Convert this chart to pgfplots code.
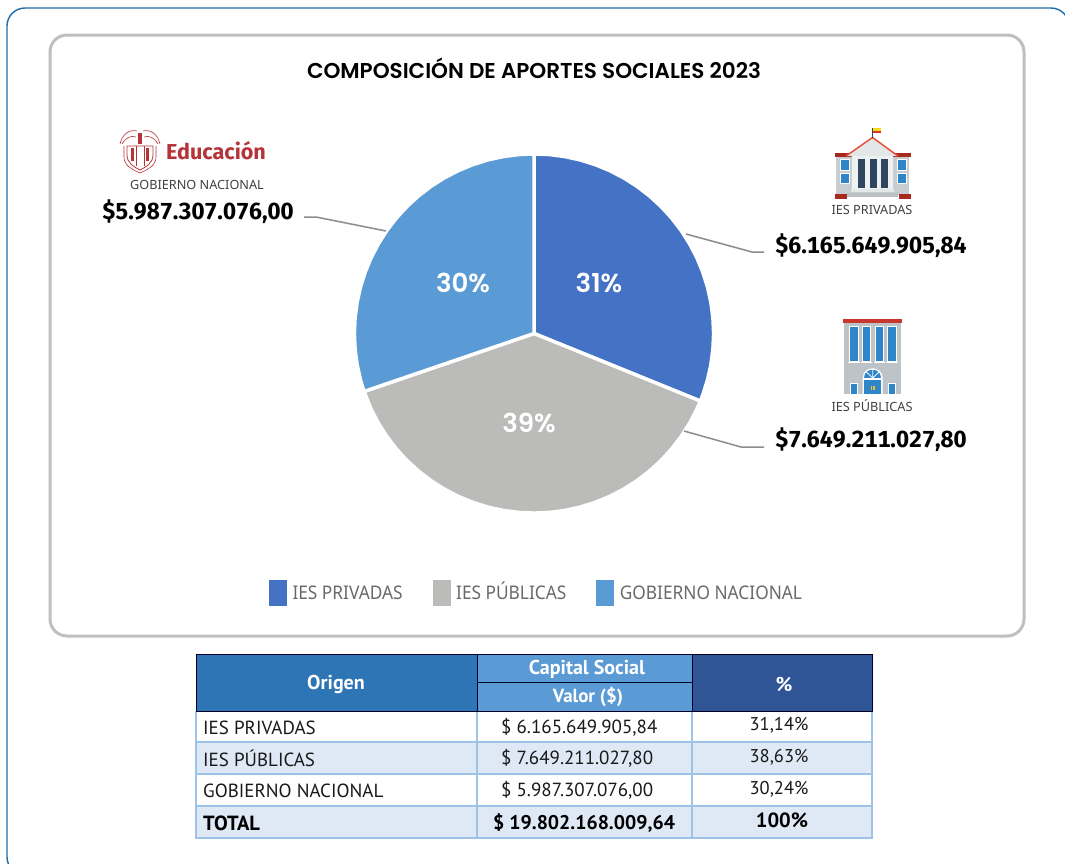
\documentclass[border=0pt]{standalone}
\usepackage{pgfplots}
\pgfplotsset{compat=1.18}
\usepackage{fontspec}
\setmainfont{Noto Sans}
\newfontfamily\pop[BoldFont={Poppins SemiBold}]{Poppins}
\newfontfamily\tab{PT Sans}
\newfontfamily\lab{Noto Sans}
\newfontfamily\leg[FakeStretch=0.92]{Noto Sans}
\newfontfamily\fir[Numbers=Monospaced]{Fira Sans}
\definecolor{cA}{HTML}{4472C4}
\definecolor{cB}{HTML}{BBBBB9}
\definecolor{cC}{HTML}{5B9BD5}
\definecolor{frameB}{HTML}{1F6CA8}
\definecolor{frameG}{HTML}{BFBFBF}
\definecolor{hA}{HTML}{2E75B6}
\definecolor{hC}{HTML}{2F5597}
\definecolor{band}{HTML}{DEE9F5}
\definecolor{rule}{HTML}{9DC3E6}
\definecolor{edu}{HTML}{B5343A}
\definecolor{lead}{HTML}{8C8C8C}
\definecolor{legt}{HTML}{6A6A6A}
\definecolor{wall}{HTML}{C8CDD2}
\definecolor{win}{HTML}{2E86C8}
\definecolor{roofr}{HTML}{E5533D}
\definecolor{dred}{HTML}{A82A1E}
\definecolor{col}{HTML}{2F4560}
\definecolor{bA}{HTML}{E4E7E7}
\definecolor{bB}{HTML}{EEF1F1}
\definecolor{bC}{HTML}{B8C0C0}
\definecolor{flagY}{HTML}{F7D917}
\definecolor{flagR}{HTML}{D9302C}
\definecolor{pubW}{HTML}{BEC3C7}
\definecolor{pubR}{HTML}{C8372D}
\definecolor{knob}{HTML}{F2C230}
\newcommand{\fs}[1]{\fontsize{#1pt}{#1pt}\selectfont}
\begin{document}
\begin{tikzpicture}[x=1pt,y=-1pt]
\path[use as bounding box] (0,0) rectangle (1065,863);
\fill[white] (0,0) rectangle (1065,863);
\begin{scope}
\clip (0,0) rectangle (1065,863);
\draw[frameB,line width=1.4pt,rounded corners=18pt] (7,8) rectangle (1069,875);
\end{scope}
\draw[frameG,line width=3pt,rounded corners=17pt] (50,35) rectangle (1024,636);
\coordinate (axpos) at (0,863);
\begin{axis}[at={(axpos)},anchor=south west,scale only axis,width=1065pt,height=863pt,
  axis lines=none,xmin=-2.9733,xmax=2.9566,ymin=-2.9482,ymax=1.8569,clip=false,
  legend columns=3,
  legend style={draw=none,fill=none,at={(0.2526,0.3282)},anchor=north west,inner sep=0pt,outer sep=0pt,
    font=\leg\fs{18.8}\color{legt},
    nodes={text height=14pt,text depth=0pt},
    /tikz/every odd column/.append style={column sep=3.5pt},
    /tikz/every even column/.append style={column sep=28pt}},
  legend image code/.code={\fill[#1,draw=none] (0pt,-13pt) rectangle (18pt,13pt);},
]
\addplot[fill=cA,draw=white,line width=3.5pt,line join=round] coordinates {
(0,0) (0,1) (.0872,.9962) (.1736,.9848) (.2588,.9659) (.3420,.9397) (.4226,.9063) (.5,.8660) (.5736,.8192)
(.6428,.7660) (.7071,.7071) (.7660,.6428) (.8192,.5736) (.8660,.5) (.9063,.4226) (.9397,.3420) (.9659,.2588)
(.9848,.1736) (.9962,.0872) (1,0) (.9962,-.0872) (.9848,-.1736) (.9659,-.2588) (.9397,-.3420) (.9265,-.3762) (0,0)};
\addlegendentry{IES PRIVADAS}
\addplot[fill=cB,draw=white,line width=3.5pt,line join=round] coordinates {
(0,0) (.9265,-.3762) (.9063,-.4226) (.8660,-.5) (.8192,-.5736) (.7660,-.6428) (.7071,-.7071) (.6428,-.7660)
(.5736,-.8192) (.5,-.8660) (.4226,-.9063) (.3420,-.9397) (.2588,-.9659) (.1736,-.9848) (.0872,-.9962) (0,-1)
(-.0872,-.9962) (-.1736,-.9848) (-.2588,-.9659) (-.3420,-.9397) (-.4226,-.9063) (-.5,-.8660) (-.5736,-.8192)
(-.6428,-.7660) (-.7071,-.7071) (-.7660,-.6428) (-.8192,-.5736) (-.8660,-.5) (-.9063,-.4226) (-.9465,-.3228) (0,0)};
\addlegendentry{IES PÚBLICAS}
\addplot[fill=cC,draw=white,line width=3.5pt,line join=round] coordinates {
(0,0) (-.9465,-.3228) (-.9659,-.2588) (-.9848,-.1736) (-.9962,-.0872) (-1,0) (-.9962,.0872) (-.9848,.1736)
(-.9659,.2588) (-.9397,.3420) (-.9063,.4226) (-.8660,.5) (-.8192,.5736) (-.7660,.6428) (-.7071,.7071)
(-.6428,.7660) (-.5736,.8192) (-.5,.8660) (-.4226,.9063) (-.3420,.9397) (-.2588,.9659) (-.1736,.9848)
(-.0872,.9962) (0,1) (0,0)};
\addlegendentry{GOBIERNO NACIONAL}
\end{axis}
% pie labels
\node[white,font=\pop\bfseries\fs{26}] at (599,283) {31\%};
\node[white,font=\pop\bfseries\fs{26}] at (529,423) {39\%};
\node[white,font=\pop\bfseries\fs{26}] at (463,283) {30\%};
% title
\node[font=\pop\bfseries\fs{21.5}] at (534,68.5) {COMPOSICIÓN DE APORTES SOCIALES 2023};
% leaders
\draw[lead,line width=1.5pt] (304,217)--(316,217)--(386,231);
\draw[lead,line width=1.5pt] (686,234)--(752,252)--(764,252);
\draw[lead,line width=1.5pt] (684,431)--(741,447)--(764,447);
% callouts
\node[font=\lab\fs{12.7},black!75] at (197,185) {GOBIERNO NACIONAL};
\node[font=\lab\fs{12.7},black!75] at (872,210) {IES PRIVADAS};
\node[font=\lab\fs{12.7},black!75] at (872,406) {IES PÚBLICAS};
\node[font=\fir\bfseries\fs{23.2}] at (198,212) {\$5.987.307.076,00};
\node[font=\fir\bfseries\fs{23.2}] at (871,246) {\$6.165.649.905,84};
\node[font=\fir\bfseries\fs{23.2}] at (871,440) {\$7.649.211.027,80};
% Educacion logo
\node[font=\fir\bfseries\fs{21.6},edu,anchor=west,inner sep=0pt] at (166,151) {Educación};
\begin{scope}[edu,line width=.8pt]
\draw (127,146) -- (153,146) -- (153,155) .. controls (153,163) and (146,167) .. (140,170) .. controls (134,167) and (127,163) .. (127,155) -- cycle;
\fill (131,148) rectangle (134,161);
\fill (146,148) rectangle (149,161);
\fill (138,133) rectangle (142,144);
\draw[line width=.6pt] (136,146) -- (136,166) (144,146) -- (144,166);
\draw[line width=.6pt] (120,144) .. controls (122,134) and (130,129) .. (137,131);
\draw[line width=.6pt] (160,144) .. controls (158,134) and (150,129) .. (143,131);
\draw[line width=.6pt] (122,144) .. controls (125,138) and (131,135) .. (136,137);
\draw[line width=.6pt] (158,144) .. controls (155,138) and (149,135) .. (144,137);
\draw[line width=.6pt] (124,146) -- (124,157) .. controls (124,165) and (131,169) .. (140,173) .. controls (149,169) and (156,165) .. (156,157) -- (156,146);
\end{scope}
% building private
\fill[wall] (836,156) rectangle (909,195);
\fill[dred] (835,152.7) rectangle (911,156.7);
\fill[dred] (835,194.3) rectangle (847,199);
\fill[dred] (899,194.3) rectangle (911,199);
\fill[bA] (847,156) -- (872.5,137.5) -- (897,156) -- cycle;
\draw[roofr,line width=1.5pt] (846,156) -- (872.5,137.5) -- (898,156);
\fill[bB] (851.7,156) rectangle (893.3,192);
\foreach \a in {858.3,870,881} {\fill[col] (\a,159.3) rectangle ++(6.5,28.4);}
\fill[bA] (850.5,189) rectangle (894,192.3);
\fill[bC] (847,193.3) rectangle (898,196.7);
\foreach \a in {839.5,897} {
  \fill[white] (\a,159.3) rectangle ++(10,11.5);
  \fill[white] (\a,172.6) rectangle ++(10,11.5);
  \fill[win] (\a+1,160.3) rectangle ++(8,9.5);
  \fill[win] (\a+1,173.6) rectangle ++(8,9.5);
}
\draw[col,line width=.7pt] (872,128) -- (872,138);
\fill[flagY] (872.5,128) rectangle (881,130.5);
\fill[flagR] (872.5,130.5) rectangle (881,133);
% building public
\fill[pubW] (844,323) rectangle (901,394);
\fill[pubR] (843,319) rectangle (902,323);
\foreach \a in {849.3,862,874.7,887.3} {
  \fill[white] (\a,326) rectangle ++(9.2,35.7);
  \fill[win] (\a+1,327) rectangle ++(7.2,34);
  \fill[white] (\a-1,361.5) rectangle ++(11.2,1.6);
}
\fill[white] (862.7,394) -- (862.7,378.3) .. controls (862.7,365) and (882.7,365) .. (882.7,378.3) -- (882.7,394) -- cycle;
\fill[win] (864,394) rectangle (881.4,379.5);
\fill[win] (864,378) .. controls (864,367) and (881.4,367) .. (881.4,378) -- cycle;
\draw[white,line width=.8pt] (872.7,378) -- (872.7,369) (872.7,378) -- (866.5,372) (872.7,378) -- (879,372);
\fill[knob] (871,386) rectangle (872.2,390);
\fill[knob] (873.4,386) rectangle (874.6,390);
\foreach \a in {850.3,888.3} {
  \fill[white] (\a,383.3) rectangle ++(7.4,10.7);
  \fill[win] (\a+.8,384.3) rectangle ++(5.8,9.7);
}
% table
\fill[hA] (196,654) rectangle (477,711);
\fill[cC] (477,654) rectangle (692,711);
\fill[hC] (692,654) rectangle (872,711);
\fill[band] (196,742) rectangle (872,774);
\fill[band] (196,806) rectangle (872,838);
\draw[rule,line width=1.5pt] (196,711) -- (196,838) (477,711) -- (477,838) (692,711) -- (692,838) (872,711) -- (872,838);
\draw[rule,line width=1.5pt] (196,742) -- (872,742) (196,774) -- (872,774) (196,806) -- (872,806) (195.3,838) -- (872.7,838);
\draw[black!85!blue,line width=1pt] (196,654) rectangle (872,711);
\draw[black!85!blue,line width=1pt] (477,654) -- (477,711) (692,654) -- (692,711) (477,682) -- (692,682);
\node[white,font=\tab\bfseries\fs{20}] at (336,684) {Origen};
\node[white,font=\tab\bfseries\fs{20}] at (587,669) {Capital Social};
\node[white,font=\tab\bfseries\fs{19}] at (588,697) {Valor (\$)};
\node[white,font=\tab\bfseries\fs{20}] at (784,684) {\%};
\node[anchor=west,inner sep=0pt,font=\tab\fs{19},black!90] at (203,727.5) {IES PRIVADAS};
\node[anchor=west,inner sep=0pt,font=\tab\fs{19},black!90] at (203,758.5) {IES PÚBLICAS};
\node[anchor=west,inner sep=0pt,font=\tab\fs{19},black!90] at (203,790.5) {GOBIERNO NACIONAL};
\node[anchor=west,inner sep=0pt,font=\tab\fs{19},black!90] at (501,727.5) {\$ 6.165.649.905,84};
\node[anchor=west,inner sep=0pt,font=\tab\fs{19},black!90] at (501,758.5) {\$ 7.649.211.027,80};
\node[anchor=west,inner sep=0pt,font=\tab\fs{19},black!90] at (501,790.5) {\$ 5.987.307.076,00};
\node[font=\tab\fs{18.5},black!90] at (779,725) {31,14\%};
\node[font=\tab\fs{18.5},black!90] at (779,757) {38,63\%};
\node[font=\tab\fs{18.5},black!90] at (779,789) {30,24\%};
\node[anchor=west,inner sep=0pt,font=\tab\bfseries\fs{20.5}] at (203,823) {TOTAL};
\node[anchor=west,inner sep=0pt,font=\tab\bfseries\fs{19.8}] at (493,823) {\$ 19.802.168.009,64};
\node[font=\tab\bfseries\fs{20.5}] at (782,820) {100\%};
\end{tikzpicture}
\end{document}
